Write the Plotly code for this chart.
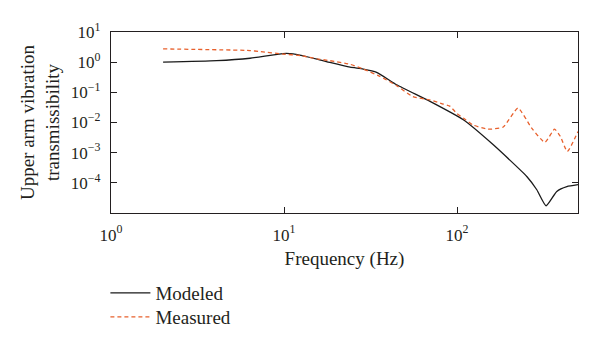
import plotly.graph_objects as go

# Modeled upper-arm transmissibility
freq_model = [2.0, 4.08, 6.36, 9.87, 11.3, 15.5, 18.4, 24.1, 28.7, 34.3, 44.8, 69.8,
              108.7, 162, 253, 289, 327, 377, 431, 500]
trans_model = [1.0, 1.12, 1.35, 1.93, 1.88, 1.26, 0.98, 0.68, 0.59, 0.46, 0.178, 0.050,
               0.0123, 1.82e-3, 1.62e-4, 5.9e-5, 1.74e-5, 5.2e-5, 7.5e-5, 8.7e-5]

# Measured upper-arm transmissibility
freq_meas = [2.0, 6.36, 7.25, 9.87, 12.4, 15.5, 18.4, 24.1, 28.7, 35.8, 44.8, 55.6, 69.8,
             83, 90.8, 99.6, 108.7, 123.6, 150.9, 185, 225, 270, 322, 366, 395, 434, 500]
trans_meas = [2.75, 2.43, 2.24, 1.86, 1.66, 1.29, 1.12, 0.85, 0.59, 0.34, 0.166, 0.072, 0.056,
              0.041, 0.035, 0.020, 0.014, 0.0083, 0.0060, 0.0071, 0.030, 0.0065, 0.0022,
              0.0060, 0.0035, 0.0011, 0.0050]

# Decade ticks
x_tickvals = [1, 10, 100]
x_ticktext = ["10<sup>0</sup>", "10<sup>1</sup>", "10<sup>2</sup>"]
y_tickvals = [1e-4, 1e-3, 1e-2, 1e-1, 1, 10]
y_ticktext = ["10<sup>−4</sup>", "10<sup>−3</sup>", "10<sup>−2</sup>",
              "10<sup>−1</sup>", "10<sup>0</sup>", "10<sup>1</sup>"]

FONT = "Liberation Serif"
INK = "#231f20"

fig = go.Figure()
fig.add_trace(go.Scatter(x=freq_model, y=trans_model, mode="lines", name="Modeled",
                         legend="legend",
                         line=dict(color="#1a1a1a", width=1.3, shape="spline", smoothing=0.5)))
fig.add_trace(go.Scatter(x=freq_meas, y=trans_meas, mode="lines", name="Measured",
                         legend="legend2",
                         line=dict(color="#e8602c", width=1.3, dash="4px,3px",
                                   shape="spline", smoothing=0.5)))

axis_common = dict(type="log", showgrid=False, zeroline=False, showline=True,
                   linecolor=INK, linewidth=1.2, mirror="ticks", ticks="inside",
                   ticklen=6, tickwidth=1, tickcolor=INK,
                   tickfont=dict(family=FONT, size=17, color=INK))

fig.update_xaxes(range=[0, 2.699], tickvals=x_tickvals, ticktext=x_ticktext,
                 ticklabelstandoff=6,
                 title=dict(text="Frequency (Hz)",
                            font=dict(family=FONT, size=19, color=INK), standoff=8),
                 **axis_common)
fig.update_yaxes(range=[-5, 1], tickvals=y_tickvals, ticktext=y_ticktext,
                 ticklabelstandoff=6,
                 title=dict(text="Upper arm vibration<br>transmissibility",
                            font=dict(family=FONT, size=19, color=INK), standoff=6),
                 **axis_common)

legend_style = dict(xanchor="left", yanchor="top", bgcolor="rgba(0,0,0,0)",
                    itemwidth=40, font=dict(family=FONT, size=19, color=INK))

fig.update_layout(
    width=600, height=346,
    margin=dict(l=111, r=22, t=32, b=133, autoexpand=False),
    paper_bgcolor="white", plot_bgcolor="white",
    font=dict(family=FONT, size=19, color=INK),
    showlegend=True,
    legend=dict(x=-0.012, y=-0.337, **legend_style),
    legend2=dict(x=-0.012, y=-0.470, **legend_style),
)

fig.write_html("out.html")
